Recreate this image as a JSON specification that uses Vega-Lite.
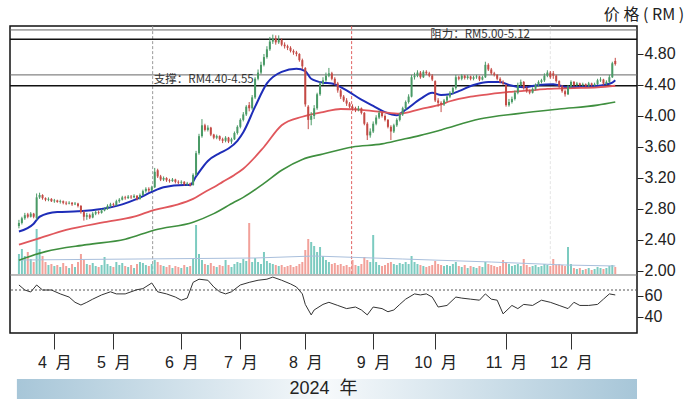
{
  "$schema": "https://vega.github.io/schema/vega-lite/v6.json",
  "background": "white",
  "padding": {"left": 8, "top": 5, "right": 0, "bottom": 0},
  "config": {"view": {"stroke": null}, "font": "Liberation Sans"},
  "spacing": 8,
  "datasets": {
    "k": [
      {"d":0,"o":2.58,"h":2.66,"l":2.55,"c":2.62,"v":20},{"d":1,"o":2.62,"h":2.70,"l":2.60,"c":2.68,"v":25},{"d":2,"o":2.68,"h":2.75,"l":2.66,"c":2.72,"v":18},{"d":3,"o":2.73,"h":2.75,"l":2.68,"c":2.70,"v":22},{"d":4,"o":2.70,"h":2.76,"l":2.69,"c":2.74,"v":15},{"d":5,"o":2.74,"h":2.75,"l":2.68,"c":2.70,"v":12},{"d":6,"o":2.68,"h":3.00,"l":2.66,"c":2.95,"v":45},{"d":7,"o":2.95,"h":3.01,"l":2.93,"c":2.98,"v":25},{"d":8,"o":2.98,"h":2.99,"l":2.92,"c":2.94,"v":18},{"d":9,"o":2.94,"h":2.95,"l":2.90,"c":2.92,"v":12},
      {"d":10,"o":2.92,"h":2.95,"l":2.90,"c":2.93,"v":9},{"d":11,"o":2.93,"h":2.94,"l":2.89,"c":2.90,"v":10},{"d":12,"o":2.90,"h":2.93,"l":2.88,"c":2.91,"v":8},{"d":13,"o":2.91,"h":2.92,"l":2.88,"c":2.89,"v":9},{"d":14,"o":2.89,"h":2.92,"l":2.87,"c":2.90,"v":7},{"d":15,"o":2.90,"h":2.91,"l":2.86,"c":2.88,"v":11},{"d":16,"o":2.88,"h":2.90,"l":2.85,"c":2.87,"v":8},{"d":17,"o":2.87,"h":2.90,"l":2.86,"c":2.88,"v":6},{"d":18,"o":2.88,"h":2.89,"l":2.84,"c":2.86,"v":10},{"d":19,"o":2.86,"h":2.89,"l":2.85,"c":2.87,"v":7},
      {"d":20,"o":2.87,"h":2.88,"l":2.82,"c":2.84,"v":12},{"d":21,"o":2.84,"h":2.85,"l":2.74,"c":2.76,"v":20},{"d":22,"o":2.76,"h":2.78,"l":2.65,"c":2.70,"v":14},{"d":23,"o":2.70,"h":2.75,"l":2.66,"c":2.72,"v":10},{"d":24,"o":2.72,"h":2.74,"l":2.67,"c":2.69,"v":9},{"d":25,"o":2.69,"h":2.76,"l":2.68,"c":2.74,"v":11},{"d":26,"o":2.74,"h":2.78,"l":2.72,"c":2.76,"v":8},{"d":27,"o":2.76,"h":2.78,"l":2.73,"c":2.75,"v":7},{"d":28,"o":2.75,"h":2.80,"l":2.74,"c":2.78,"v":9},{"d":29,"o":2.78,"h":2.82,"l":2.77,"c":2.80,"v":17},
      {"d":30,"o":2.80,"h":2.86,"l":2.79,"c":2.84,"v":10},{"d":31,"o":2.84,"h":2.88,"l":2.82,"c":2.86,"v":8},{"d":32,"o":2.86,"h":2.88,"l":2.83,"c":2.85,"v":7},{"d":33,"o":2.85,"h":2.92,"l":2.84,"c":2.90,"v":12},{"d":34,"o":2.90,"h":2.94,"l":2.88,"c":2.92,"v":9},{"d":35,"o":2.92,"h":2.97,"l":2.91,"c":2.95,"v":11},{"d":36,"o":2.95,"h":2.97,"l":2.92,"c":2.94,"v":8},{"d":37,"o":2.94,"h":2.98,"l":2.93,"c":2.96,"v":7},{"d":38,"o":2.96,"h":2.98,"l":2.93,"c":2.95,"v":9},{"d":39,"o":2.95,"h":2.99,"l":2.94,"c":2.97,"v":6},
      {"d":40,"o":2.97,"h":2.98,"l":2.91,"c":2.93,"v":10},{"d":41,"o":2.93,"h":3.00,"l":2.92,"c":2.98,"v":12},{"d":42,"o":2.98,"h":3.05,"l":2.97,"c":3.03,"v":11},{"d":43,"o":3.03,"h":3.08,"l":3.01,"c":3.06,"v":9},{"d":44,"o":3.06,"h":3.08,"l":3.02,"c":3.04,"v":8},{"d":45,"o":3.04,"h":3.10,"l":3.03,"c":3.08,"v":10},{"d":46,"o":3.08,"h":3.33,"l":3.07,"c":3.28,"v":14},{"d":47,"o":3.30,"h":3.32,"l":3.20,"c":3.22,"v":12},{"d":48,"o":3.22,"h":3.24,"l":3.16,"c":3.18,"v":9},{"d":49,"o":3.18,"h":3.22,"l":3.16,"c":3.20,"v":8},
      {"d":50,"o":3.20,"h":3.21,"l":3.15,"c":3.17,"v":7},{"d":51,"o":3.17,"h":3.19,"l":3.14,"c":3.16,"v":9},{"d":52,"o":3.16,"h":3.20,"l":3.15,"c":3.18,"v":6},{"d":53,"o":3.18,"h":3.19,"l":3.13,"c":3.15,"v":8},{"d":54,"o":3.15,"h":3.17,"l":3.12,"c":3.14,"v":7},{"d":55,"o":3.14,"h":3.17,"l":3.12,"c":3.15,"v":6},{"d":56,"o":3.15,"h":3.16,"l":3.10,"c":3.12,"v":9},{"d":57,"o":3.12,"h":3.15,"l":3.10,"c":3.13,"v":7},{"d":58,"o":3.13,"h":3.14,"l":3.09,"c":3.11,"v":8},{"d":59,"o":3.11,"h":3.26,"l":3.10,"c":3.24,"v":15},
      {"d":60,"o":3.24,"h":3.55,"l":3.23,"c":3.52,"v":49},{"d":61,"o":3.52,"h":3.77,"l":3.50,"c":3.74,"v":20},{"d":62,"o":3.74,"h":3.96,"l":3.72,"c":3.88,"v":14},{"d":63,"o":3.88,"h":3.90,"l":3.80,"c":3.82,"v":10},{"d":64,"o":3.82,"h":3.88,"l":3.80,"c":3.85,"v":9},{"d":65,"o":3.85,"h":3.86,"l":3.74,"c":3.76,"v":11},{"d":66,"o":3.76,"h":3.77,"l":3.70,"c":3.72,"v":8},{"d":67,"o":3.72,"h":3.76,"l":3.70,"c":3.74,"v":7},{"d":68,"o":3.74,"h":3.75,"l":3.68,"c":3.70,"v":9},{"d":69,"o":3.70,"h":3.72,"l":3.65,"c":3.68,"v":8},
      {"d":70,"o":3.68,"h":3.74,"l":3.66,"c":3.72,"v":14},{"d":71,"o":3.72,"h":3.73,"l":3.65,"c":3.67,"v":9},{"d":72,"o":3.67,"h":3.72,"l":3.64,"c":3.70,"v":7},{"d":73,"o":3.70,"h":3.80,"l":3.69,"c":3.78,"v":10},{"d":74,"o":3.78,"h":3.88,"l":3.76,"c":3.86,"v":12},{"d":75,"o":3.86,"h":3.97,"l":3.84,"c":3.95,"v":11},{"d":76,"o":3.95,"h":4.05,"l":3.93,"c":4.02,"v":15},{"d":77,"o":4.02,"h":4.14,"l":4.00,"c":4.12,"v":13},{"d":78,"o":4.14,"h":4.18,"l":4.06,"c":4.10,"v":51},{"d":79,"o":4.10,"h":4.27,"l":4.08,"c":4.24,"v":12},
      {"d":80,"o":4.24,"h":4.50,"l":4.22,"c":4.48,"v":16},{"d":81,"o":4.48,"h":4.60,"l":4.46,"c":4.56,"v":12},{"d":82,"o":4.56,"h":4.70,"l":4.54,"c":4.66,"v":10},{"d":83,"o":4.66,"h":4.80,"l":4.64,"c":4.76,"v":22},{"d":84,"o":4.76,"h":4.90,"l":4.74,"c":4.86,"v":13},{"d":85,"o":4.86,"h":5.02,"l":4.84,"c":4.96,"v":11},{"d":86,"o":4.96,"h":5.05,"l":4.93,"c":5.00,"v":10},{"d":87,"o":5.00,"h":5.04,"l":4.92,"c":4.95,"v":9},{"d":88,"o":4.95,"h":5.04,"l":4.93,"c":4.98,"v":8},{"d":89,"o":4.98,"h":5.00,"l":4.90,"c":4.92,"v":9},
      {"d":90,"o":4.92,"h":4.95,"l":4.87,"c":4.90,"v":7},{"d":91,"o":4.90,"h":4.92,"l":4.85,"c":4.88,"v":8},{"d":92,"o":4.88,"h":4.90,"l":4.82,"c":4.84,"v":9},{"d":93,"o":4.84,"h":4.86,"l":4.79,"c":4.82,"v":7},{"d":94,"o":4.82,"h":4.84,"l":4.77,"c":4.80,"v":8},{"d":95,"o":4.80,"h":4.81,"l":4.70,"c":4.72,"v":10},{"d":96,"o":4.72,"h":4.74,"l":4.60,"c":4.64,"v":12},{"d":97,"o":4.62,"h":4.63,"l":4.12,"c":4.15,"v":24},{"d":98,"o":4.12,"h":4.14,"l":3.83,"c":3.95,"v":35},{"d":99,"o":3.95,"h":4.05,"l":3.88,"c":4.00,"v":32},
      {"d":100,"o":4.00,"h":4.14,"l":3.96,"c":4.10,"v":28},{"d":101,"o":4.10,"h":4.30,"l":4.08,"c":4.28,"v":22},{"d":102,"o":4.28,"h":4.45,"l":4.26,"c":4.42,"v":27},{"d":103,"o":4.42,"h":4.50,"l":4.40,"c":4.46,"v":18},{"d":104,"o":4.46,"h":4.56,"l":4.44,"c":4.52,"v":14},{"d":105,"o":4.52,"h":4.62,"l":4.50,"c":4.55,"v":12},{"d":106,"o":4.55,"h":4.57,"l":4.46,"c":4.48,"v":10},{"d":107,"o":4.48,"h":4.50,"l":4.40,"c":4.42,"v":11},{"d":108,"o":4.42,"h":4.44,"l":4.30,"c":4.33,"v":9},{"d":109,"o":4.33,"h":4.35,"l":4.22,"c":4.25,"v":10},
      {"d":110,"o":4.25,"h":4.27,"l":4.18,"c":4.20,"v":8},{"d":111,"o":4.20,"h":4.23,"l":4.13,"c":4.16,"v":9},{"d":112,"o":4.16,"h":4.18,"l":4.10,"c":4.12,"v":7},{"d":113,"o":4.12,"h":4.15,"l":4.07,"c":4.10,"v":14},{"d":114,"o":4.10,"h":4.12,"l":4.05,"c":4.08,"v":9},{"d":115,"o":4.08,"h":4.13,"l":4.06,"c":4.10,"v":8},{"d":116,"o":4.10,"h":4.11,"l":4.02,"c":4.04,"v":10},{"d":117,"o":4.04,"h":4.05,"l":3.88,"c":3.90,"v":17},{"d":118,"o":3.90,"h":3.92,"l":3.69,"c":3.75,"v":14},{"d":119,"o":3.75,"h":3.84,"l":3.72,"c":3.80,"v":12},
      {"d":120,"o":3.80,"h":3.93,"l":3.78,"c":3.90,"v":39},{"d":121,"o":3.90,"h":4.01,"l":3.88,"c":3.98,"v":12},{"d":122,"o":3.98,"h":4.07,"l":3.96,"c":4.04,"v":9},{"d":123,"o":4.04,"h":4.06,"l":3.98,"c":4.00,"v":8},{"d":124,"o":4.00,"h":4.02,"l":3.93,"c":3.95,"v":9},{"d":125,"o":3.95,"h":3.96,"l":3.84,"c":3.86,"v":11},{"d":126,"o":3.86,"h":3.88,"l":3.69,"c":3.80,"v":12},{"d":127,"o":3.80,"h":3.90,"l":3.78,"c":3.88,"v":10},{"d":128,"o":3.88,"h":3.97,"l":3.86,"c":3.95,"v":9},{"d":129,"o":3.95,"h":4.04,"l":3.93,"c":4.02,"v":11},
      {"d":130,"o":4.02,"h":4.12,"l":4.00,"c":4.10,"v":10},{"d":131,"o":4.10,"h":4.20,"l":4.08,"c":4.18,"v":12},{"d":132,"o":4.18,"h":4.28,"l":4.16,"c":4.25,"v":10},{"d":133,"o":4.25,"h":4.53,"l":4.24,"c":4.50,"v":18},{"d":134,"o":4.50,"h":4.56,"l":4.47,"c":4.52,"v":12},{"d":135,"o":4.52,"h":4.59,"l":4.50,"c":4.56,"v":10},{"d":136,"o":4.56,"h":4.58,"l":4.48,"c":4.50,"v":9},{"d":137,"o":4.50,"h":4.59,"l":4.49,"c":4.57,"v":8},{"d":138,"o":4.57,"h":4.59,"l":4.53,"c":4.55,"v":7},{"d":139,"o":4.55,"h":4.57,"l":4.50,"c":4.52,"v":8},
      {"d":140,"o":4.52,"h":4.54,"l":4.45,"c":4.47,"v":9},{"d":141,"o":4.45,"h":4.46,"l":4.18,"c":4.20,"v":13},{"d":142,"o":4.20,"h":4.23,"l":4.12,"c":4.17,"v":10},{"d":143,"o":4.17,"h":4.19,"l":4.05,"c":4.15,"v":9},{"d":144,"o":4.15,"h":4.22,"l":4.13,"c":4.20,"v":8},{"d":145,"o":4.20,"h":4.27,"l":4.18,"c":4.25,"v":9},{"d":146,"o":4.25,"h":4.32,"l":4.23,"c":4.30,"v":8},{"d":147,"o":4.30,"h":4.38,"l":4.28,"c":4.36,"v":10},{"d":148,"o":4.36,"h":4.53,"l":4.34,"c":4.50,"v":12},{"d":149,"o":4.50,"h":4.52,"l":4.46,"c":4.48,"v":8},
      {"d":150,"o":4.48,"h":4.54,"l":4.46,"c":4.52,"v":7},{"d":151,"o":4.52,"h":4.53,"l":4.47,"c":4.49,"v":9},{"d":152,"o":4.49,"h":4.53,"l":4.47,"c":4.51,"v":6},{"d":153,"o":4.51,"h":4.52,"l":4.46,"c":4.48,"v":8},{"d":154,"o":4.48,"h":4.52,"l":4.46,"c":4.50,"v":7},{"d":155,"o":4.50,"h":4.53,"l":4.48,"c":4.51,"v":6},{"d":156,"o":4.51,"h":4.52,"l":4.45,"c":4.47,"v":8},{"d":157,"o":4.47,"h":4.52,"l":4.46,"c":4.50,"v":7},{"d":158,"o":4.50,"h":4.70,"l":4.49,"c":4.66,"v":12},{"d":159,"o":4.66,"h":4.68,"l":4.58,"c":4.60,"v":10},
      {"d":160,"o":4.60,"h":4.62,"l":4.53,"c":4.55,"v":9},{"d":161,"o":4.55,"h":4.57,"l":4.51,"c":4.53,"v":8},{"d":162,"o":4.53,"h":4.54,"l":4.46,"c":4.48,"v":7},{"d":163,"o":4.48,"h":4.50,"l":4.42,"c":4.44,"v":8},{"d":164,"o":4.44,"h":4.46,"l":4.40,"c":4.42,"v":14},{"d":165,"o":4.40,"h":4.41,"l":4.12,"c":4.14,"v":12},{"d":166,"o":4.14,"h":4.22,"l":4.12,"c":4.18,"v":10},{"d":167,"o":4.18,"h":4.25,"l":4.16,"c":4.22,"v":8},{"d":168,"o":4.22,"h":4.33,"l":4.20,"c":4.30,"v":9},{"d":169,"o":4.30,"h":4.43,"l":4.28,"c":4.40,"v":10},
      {"d":170,"o":4.40,"h":4.47,"l":4.38,"c":4.44,"v":8},{"d":171,"o":4.44,"h":4.45,"l":4.34,"c":4.36,"v":15},{"d":172,"o":4.36,"h":4.38,"l":4.30,"c":4.32,"v":9},{"d":173,"o":4.32,"h":4.34,"l":4.28,"c":4.30,"v":7},{"d":174,"o":4.30,"h":4.37,"l":4.29,"c":4.35,"v":8},{"d":175,"o":4.35,"h":4.42,"l":4.33,"c":4.40,"v":9},{"d":176,"o":4.40,"h":4.46,"l":4.38,"c":4.44,"v":7},{"d":177,"o":4.44,"h":4.48,"l":4.42,"c":4.46,"v":8},{"d":178,"o":4.46,"h":4.55,"l":4.44,"c":4.52,"v":10},{"d":179,"o":4.52,"h":4.59,"l":4.50,"c":4.56,"v":9},
      {"d":180,"o":4.56,"h":4.58,"l":4.48,"c":4.50,"v":8},{"d":181,"o":4.55,"h":4.58,"l":4.48,"c":4.52,"v":15},{"d":182,"o":4.52,"h":4.53,"l":4.43,"c":4.45,"v":9},{"d":183,"o":4.45,"h":4.46,"l":4.36,"c":4.38,"v":10},{"d":184,"o":4.38,"h":4.40,"l":4.30,"c":4.32,"v":9},{"d":185,"o":4.32,"h":4.34,"l":4.25,"c":4.28,"v":8},{"d":186,"o":4.28,"h":4.40,"l":4.27,"c":4.38,"v":27},{"d":187,"o":4.38,"h":4.46,"l":4.36,"c":4.44,"v":10},{"d":188,"o":4.44,"h":4.45,"l":4.38,"c":4.40,"v":6},{"d":189,"o":4.40,"h":4.44,"l":4.38,"c":4.42,"v":5},
      {"d":190,"o":4.42,"h":4.43,"l":4.38,"c":4.40,"v":6},{"d":191,"o":4.40,"h":4.43,"l":4.38,"c":4.41,"v":4},{"d":192,"o":4.41,"h":4.42,"l":4.37,"c":4.39,"v":5},{"d":193,"o":4.39,"h":4.44,"l":4.37,"c":4.42,"v":6},{"d":194,"o":4.42,"h":4.43,"l":4.38,"c":4.40,"v":4},{"d":195,"o":4.40,"h":4.43,"l":4.38,"c":4.41,"v":5},{"d":196,"o":4.41,"h":4.48,"l":4.40,"c":4.46,"v":7},{"d":197,"o":4.46,"h":4.50,"l":4.44,"c":4.47,"v":6},{"d":198,"o":4.47,"h":4.48,"l":4.40,"c":4.42,"v":5},{"d":199,"o":4.42,"h":4.46,"l":4.40,"c":4.44,"v":6},
      {"d":200,"o":4.44,"h":4.53,"l":4.42,"c":4.50,"v":8},{"d":201,"o":4.50,"h":4.70,"l":4.49,"c":4.68,"v":9},{"d":202,"o":4.71,"h":4.75,"l":4.65,"c":4.67,"v":7}
    ],
    "ma": [
      {"d":0,"s":"fast","p":2.51},{"d":5,"s":"fast","p":2.61},{"d":7,"s":"fast","p":2.70},{"d":13,"s":"fast","p":2.76},{"d":20,"s":"fast","p":2.77},{"d":28,"s":"fast","p":2.80},{"d":35,"s":"fast","p":2.86},{"d":40,"s":"fast","p":2.93},{"d":45,"s":"fast","p":3.02},{"d":49,"s":"fast","p":3.08},{"d":56,"s":"fast","p":3.11},{"d":58,"s":"fast","p":3.11},{"d":60,"s":"fast","p":3.22},{"d":64,"s":"fast","p":3.42},{"d":68,"s":"fast","p":3.52},{"d":71,"s":"fast","p":3.58},{"d":74,"s":"fast","p":3.68},{"d":76,"s":"fast","p":3.79},{"d":80,"s":"fast","p":4.12},{"d":84,"s":"fast","p":4.42},{"d":89,"s":"fast","p":4.57},{"d":94,"s":"fast","p":4.61},{"d":97,"s":"fast","p":4.58},{"d":99,"s":"fast","p":4.48},{"d":103,"s":"fast","p":4.43},{"d":106,"s":"fast","p":4.42},{"d":111,"s":"fast","p":4.33},{"d":116,"s":"fast","p":4.21},{"d":120,"s":"fast","p":4.13},{"d":124,"s":"fast","p":4.05},{"d":128,"s":"fast","p":4.01},{"d":131,"s":"fast","p":4.08},{"d":136,"s":"fast","p":4.22},{"d":140,"s":"fast","p":4.30},{"d":143,"s":"fast","p":4.27},{"d":146,"s":"fast","p":4.28},{"d":149,"s":"fast","p":4.32},{"d":154,"s":"fast","p":4.40},{"d":159,"s":"fast","p":4.44},{"d":163,"s":"fast","p":4.44},{"d":166,"s":"fast","p":4.40},{"d":171,"s":"fast","p":4.37},{"d":176,"s":"fast","p":4.40},{"d":181,"s":"fast","p":4.41},{"d":186,"s":"fast","p":4.37},{"d":193,"s":"fast","p":4.38},{"d":198,"s":"fast","p":4.40},{"d":201,"s":"fast","p":4.43},{"d":202,"s":"fast","p":4.46},
      {"d":0,"s":"mid","p":2.34},{"d":6,"s":"mid","p":2.41},{"d":16,"s":"mid","p":2.53},{"d":29,"s":"mid","p":2.63},{"d":39,"s":"mid","p":2.70},{"d":46,"s":"mid","p":2.79},{"d":53,"s":"mid","p":2.85},{"d":59,"s":"mid","p":2.93},{"d":63,"s":"mid","p":3.02},{"d":66,"s":"mid","p":3.08},{"d":69,"s":"mid","p":3.15},{"d":73,"s":"mid","p":3.24},{"d":76,"s":"mid","p":3.32},{"d":83,"s":"mid","p":3.60},{"d":89,"s":"mid","p":3.88},{"d":96,"s":"mid","p":3.99},{"d":103,"s":"mid","p":4.05},{"d":109,"s":"mid","p":4.09},{"d":116,"s":"mid","p":4.08},{"d":123,"s":"mid","p":4.05},{"d":129,"s":"mid","p":4.03},{"d":136,"s":"mid","p":4.09},{"d":143,"s":"mid","p":4.15},{"d":146,"s":"mid","p":4.19},{"d":153,"s":"mid","p":4.25},{"d":159,"s":"mid","p":4.28},{"d":166,"s":"mid","p":4.31},{"d":173,"s":"mid","p":4.33},{"d":179,"s":"mid","p":4.35},{"d":188,"s":"mid","p":4.36},{"d":196,"s":"mid","p":4.37},{"d":202,"s":"mid","p":4.39},
      {"d":0,"s":"slow","p":2.14},{"d":9,"s":"slow","p":2.25},{"d":23,"s":"slow","p":2.34},{"d":36,"s":"slow","p":2.41},{"d":46,"s":"slow","p":2.53},{"d":59,"s":"slow","p":2.63},{"d":66,"s":"slow","p":2.74},{"d":73,"s":"slow","p":2.89},{"d":76,"s":"slow","p":2.95},{"d":83,"s":"slow","p":3.13},{"d":89,"s":"slow","p":3.30},{"d":96,"s":"slow","p":3.44},{"d":103,"s":"slow","p":3.51},{"d":113,"s":"slow","p":3.60},{"d":123,"s":"slow","p":3.64},{"d":129,"s":"slow","p":3.69},{"d":136,"s":"slow","p":3.75},{"d":143,"s":"slow","p":3.82},{"d":156,"s":"slow","p":3.96},{"d":169,"s":"slow","p":4.03},{"d":183,"s":"slow","p":4.09},{"d":196,"s":"slow","p":4.14},{"d":202,"s":"slow","p":4.18}
    ],
    "vma": [
      {"d":0,"v":14},{"d":40,"v":15},{"d":80,"v":16},{"d":100,"v":18},{"d":130,"v":15},{"d":160,"v":12},{"d":185,"v":9},{"d":202,"v":8}
    ],
    "rsi": [
      {"d":0,"r":70.5},{"d":2,"r":65.7},{"d":4,"r":63.8},{"d":6,"r":70.5},{"d":8,"r":65.7},{"d":11,"r":65.7},{"d":14,"r":62},{"d":17,"r":59},{"d":19,"r":54},{"d":21,"r":51.4},{"d":23,"r":54},{"d":25,"r":57},{"d":28,"r":61},{"d":31,"r":64},{"d":33,"r":62},{"d":36,"r":62},{"d":40,"r":66},{"d":42,"r":67},{"d":45,"r":72.4},{"d":47,"r":64},{"d":50,"r":62},{"d":53,"r":59},{"d":55,"r":56},{"d":57,"r":58},{"d":59,"r":73},{"d":61,"r":76},{"d":64,"r":75},{"d":66,"r":68.6},{"d":68,"r":64},{"d":70,"r":62},{"d":72,"r":64},{"d":75,"r":70.5},{"d":78,"r":73},{"d":81,"r":75},{"d":84,"r":76},{"d":86,"r":78},{"d":89,"r":75},{"d":92,"r":71.5},{"d":94,"r":68.6},{"d":96,"r":62},{"d":97,"r":52},{"d":99,"r":42},{"d":100,"r":46.7},{"d":103,"r":52},{"d":105,"r":54},{"d":108,"r":51},{"d":111,"r":48},{"d":114,"r":49.5},{"d":116,"r":46.7},{"d":118,"r":42},{"d":120,"r":49.5},{"d":123,"r":48},{"d":125,"r":45},{"d":127,"r":46.7},{"d":129,"r":52},{"d":131,"r":57},{"d":134,"r":62},{"d":136,"r":61},{"d":138,"r":62},{"d":140,"r":59},{"d":142,"r":49.5},{"d":145,"r":51},{"d":148,"r":59},{"d":150,"r":58},{"d":153,"r":57},{"d":156,"r":56},{"d":158,"r":62},{"d":160,"r":57},{"d":162,"r":56},{"d":164,"r":43},{"d":167,"r":51},{"d":169,"r":48},{"d":171,"r":52},{"d":174,"r":51},{"d":177,"r":56},{"d":180,"r":54},{"d":183,"r":51},{"d":186,"r":48},{"d":188,"r":54},{"d":190,"r":51},{"d":193,"r":51},{"d":196,"r":52},{"d":198,"r":57},{"d":200,"r":62},{"d":202,"r":61}
    ],
    "vlines": [{"d":45.3,"k":"g"},{"d":112.7,"k":"r"},{"d":180,"k":"l"}],
    "thick": [{"p":4.39},{"p":4.99}],
    "thin": [{"p":4.53},{"p":5.11}]
  },
  "vconcat": [
    {
      "width": 627,
      "height": 307,
      "view": {"stroke": "#111", "strokeWidth": 1.5},
      "title": {"text": "价 格 ( RM )", "anchor": "end", "frame": "bounds", "fontSize": 16, "fontWeight": "normal", "font": "Noto Sans CJK SC", "color": "#222", "offset": 3, "dx": 9},
      "resolve": {"scale": {"y": "independent", "color": "independent", "strokeWidth": "independent"}, "axis": {"y": "independent"}},
      "layer": [
        {
          "data": {"name": "vlines"},
          "mark": {"type": "rule", "strokeDash": [3, 2], "strokeWidth": 1},
          "encoding": {
            "x": {"field": "d", "type": "quantitative", "scale": {"domain": [-1.33, 207.67], "nice": false, "zero": false},
              "axis": {"orient": "bottom", "values": [12, 32, 55, 75, 97, 120, 141, 165, 187], "labelExpr": "(indexof([12,32,55,75,97,120,141,165,187], datum.value) + 4) + '\u00a0 月'", "title": null, "domain": false, "grid": false, "tickSize": 16, "tickColor": "#333", "tickWidth": 1, "labelFontSize": 16, "labelPadding": 5, "labelColor": "#222", "labelFont": "Liberation Sans, Noto Sans CJK SC", "labelOverlap": false, "labelFlush": false}},
            "y": {"datum": 1.96, "scale": {"domain": [1.2, 5.161], "nice": false, "zero": false}, "axis": null},
            "y2": {"datum": 5.16},
            "color": {"field": "k", "type": "nominal", "scale": {"domain": ["g", "r", "l"], "range": ["#999999", "#e06060", "#e4e4e4"]}, "legend": null}
          }
        },
        {
          "data": {"name": "thin"},
          "mark": {"type": "rule", "color": "#666", "strokeWidth": 1},
          "encoding": {
            "y": {"field": "p", "type": "quantitative", "scale": {"domain": [1.2, 5.161], "nice": false, "zero": false}, "axis": null}
          }
        },
        {
          "data": {"name": "thick"},
          "mark": {"type": "rule", "color": "#111", "strokeWidth": 1.6},
          "encoding": {
            "y": {"field": "p", "type": "quantitative", "scale": {"domain": [1.2, 5.161], "nice": false, "zero": false}, "axis": null}
          }
        },
        {
          "data": {"name": "k"},
          "mark": {"type": "bar", "size": 2},
          "encoding": {
            "x": {"field": "d", "type": "quantitative", "scale": {"domain": [-1.33, 207.67], "nice": false, "zero": false}},
            "y": {"field": "v", "type": "quantitative", "scale": {"domain": [-59, 248], "nice": false, "zero": false}, "axis": null},
            "y2": {"datum": 0},
            "color": {"condition": {"test": "datum.c >= datum.o", "value": "#7ccbc0"}, "value": "#f2a19a"}
          }
        },
        {
          "data": {"name": "vma"},
          "mark": {"type": "line", "color": "#a9bfdc", "strokeWidth": 1},
          "encoding": {
            "x": {"field": "d", "type": "quantitative", "scale": {"domain": [-1.33, 207.67], "nice": false, "zero": false}},
            "y": {"field": "v", "type": "quantitative", "scale": {"domain": [-59, 248], "nice": false, "zero": false}, "axis": null}
          }
        },
        {
          "data": {"name": "ma"},
          "mark": {"type": "line", "interpolate": "monotone"},
          "encoding": {
            "x": {"field": "d", "type": "quantitative", "scale": {"domain": [-1.33, 207.67], "nice": false, "zero": false}},
            "y": {"field": "p", "type": "quantitative", "scale": {"domain": [1.2, 5.161], "nice": false, "zero": false}, "axis": null},
            "color": {"field": "s", "type": "nominal", "scale": {"domain": ["fast", "mid", "slow"], "range": ["#1e2db8", "#e0575c", "#3f8f3f"]}, "legend": null},
            "strokeWidth": {"field": "s", "type": "nominal", "scale": {"domain": ["fast", "mid", "slow"], "range": [2, 1.6, 1.2]}, "legend": null}
          }
        },
        {
          "data": {"name": "k"},
          "mark": {"type": "rule", "strokeWidth": 1},
          "encoding": {
            "x": {"field": "d", "type": "quantitative", "scale": {"domain": [-1.33, 207.67], "nice": false, "zero": false}},
            "y": {"field": "l", "type": "quantitative", "scale": {"domain": [1.2, 5.161], "nice": false, "zero": false},
              "axis": {"orient": "right", "values": [2.0, 2.4, 2.8, 3.2, 3.6, 4.0, 4.4, 4.8], "format": ".2f", "title": null, "domain": false, "grid": false, "tickSize": 6, "tickColor": "#222", "labelFontSize": 16, "labelPadding": 1, "labelColor": "#222"}},
            "y2": {"field": "h"},
            "color": {"condition": {"test": "datum.c >= datum.o", "value": "#4a9a66"}, "value": "#c44a45"}
          }
        },
        {
          "data": {"name": "k"},
          "mark": {"type": "bar", "size": 2},
          "encoding": {
            "x": {"field": "d", "type": "quantitative", "scale": {"domain": [-1.33, 207.67], "nice": false, "zero": false}},
            "y": {"field": "o", "type": "quantitative", "scale": {"domain": [1.2, 5.161], "nice": false, "zero": false}, "axis": null},
            "y2": {"field": "c"},
            "color": {"condition": {"test": "datum.c >= datum.o", "value": "#4a9a66"}, "value": "#c44a45"}
          }
        },
        {
          "data": {"values": [{"t": "支撑：RM4.40-4.55"}]},
          "mark": {"type": "text", "align": "left", "baseline": "middle", "fontSize": 11.5, "color": "#333", "font": "Noto Sans CJK SC"},
          "encoding": {
            "x": {"datum": 45.7, "scale": {"domain": [-1.33, 207.67], "nice": false, "zero": false}},
            "y": {"datum": 4.46, "scale": {"domain": [1.2, 5.161], "nice": false, "zero": false}, "axis": null},
            "text": {"field": "t"}
          }
        },
        {
          "data": {"values": [{"t": "阻力：RM5.00-5.12"}]},
          "mark": {"type": "text", "align": "left", "baseline": "middle", "fontSize": 11.5, "color": "#333", "font": "Noto Sans CJK SC"},
          "encoding": {
            "x": {"datum": 139.3, "scale": {"domain": [-1.33, 207.67], "nice": false, "zero": false}},
            "y": {"datum": 5.045, "scale": {"domain": [1.2, 5.161], "nice": false, "zero": false}, "axis": null},
            "text": {"field": "t"}
          }
        },
        {
          "data": {"values": [{"r": 80}]},
          "mark": {"type": "rule", "color": "#777", "strokeWidth": 1},
          "encoding": {
            "y": {"field": "r", "type": "quantitative", "scale": {"domain": [24.76, 317.14], "nice": false, "zero": false}, "axis": null}
          }
        },
        {
          "data": {"values": [{"r": 65.7}]},
          "mark": {"type": "rule", "color": "#555", "strokeWidth": 1, "strokeDash": [2, 2]},
          "encoding": {
            "y": {"field": "r", "type": "quantitative", "scale": {"domain": [24.76, 317.14], "nice": false, "zero": false}, "axis": null}
          }
        },
        {
          "data": {"name": "rsi"},
          "mark": {"type": "line", "color": "#333", "strokeWidth": 1},
          "encoding": {
            "x": {"field": "d", "type": "quantitative", "scale": {"domain": [-1.33, 207.67], "nice": false, "zero": false}},
            "y": {"field": "r", "type": "quantitative", "scale": {"domain": [24.76, 317.14], "nice": false, "zero": false},
              "axis": {"orient": "right", "values": [40, 60], "title": null, "domain": false, "grid": false, "tickSize": 6, "tickColor": "#222", "labelFontSize": 16, "labelPadding": 1, "labelColor": "#222"}}
          }
        }
      ]
    },
    {
      "width": 627,
      "height": 20,
      "view": {"stroke": null},
      "data": {"values": [{"y": "2024\u00a0 年"}]},
      "layer": [
        {
          "mark": {"type": "rect", "fill": {"gradient": "linear", "x1": 0, "y1": 0, "x2": 1, "y2": 0, "stops": [{"offset": 0, "color": "#a7c6d8"}, {"offset": 0.5, "color": "#f6f9fb"}, {"offset": 1, "color": "#a7c6d8"}]}},
          "encoding": {
            "x": {"datum": 0.011, "scale": {"domain": [0, 1], "nice": false, "zero": false}, "axis": null},
            "x2": {"datum": 1}
          }
        },
        {
          "mark": {"type": "text", "fontSize": 18, "color": "#222", "baseline": "middle", "font": "Liberation Sans, Noto Sans CJK SC"},
          "encoding": {
            "x": {"datum": 0.5, "scale": {"domain": [0, 1], "nice": false, "zero": false}, "axis": null},
            "text": {"field": "y"}
          }
        }
      ]
    }
  ]
}
